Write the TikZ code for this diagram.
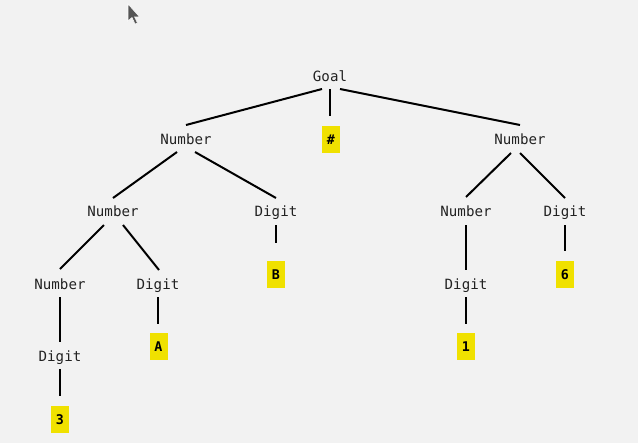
\documentclass[tikz,border=0pt]{standalone}
\usepackage{fontspec}
\setmonofont{DejaVu Sans Mono}
\definecolor{bg}{HTML}{F2F2F2}
\definecolor{leafy}{HTML}{F0E100}
\definecolor{txt}{HTML}{222222}
\definecolor{cur}{HTML}{555555}
\tikzset{
  lbl/.style={inner sep=0pt, text height=7.5pt, text depth=0pt, text=txt, font=\ttfamily\fontsize{10.6}{12}\selectfont},
  leaf/.style={fill=leafy, inner sep=0pt, minimum width=18*0.75pt, minimum height=27*0.75pt,
    text=black, font=\ttfamily\bfseries\fontsize{10}{11}\selectfont},
  edge/.style={line width=1.5pt, black}
}
\begin{document}
\begin{tikzpicture}[x=0.75pt,y=-0.75pt]
\fill[bg] (0,0) rectangle (638,443);
\useasboundingbox (0,0) rectangle (638,443);
% cursor
\fill[cur, draw=white, line width=0.4pt] (128,4) -- (128,21) -- (132,17.5) -- (135,24) -- (137.5,23) -- (134.5,16.8) -- (139.5,16.8) -- cycle;
% nodes
\node[lbl] (goal) at (330,76) {Goal};
\node[lbl] (n1) at (186,139) {Number};
\node[leaf] (hash) at (331,139.5) {\#};
\node[lbl] (n2) at (520,139) {Number};
\node[lbl] (n11) at (113,211) {Number};
\node[lbl] (d12) at (276,211) {Digit};
\node[lbl] (n21) at (466,211) {Number};
\node[lbl] (d22) at (565,211) {Digit};
\node[lbl] (n111) at (60,284) {Number};
\node[lbl] (d112) at (158,284) {Digit};
\node[leaf] (lB) at (276,274.5) {B};
\node[lbl] (d211) at (466,284) {Digit};
\node[leaf] (l6) at (565,274.5) {6};
\node[lbl] (d1111) at (60,356) {Digit};
\node[leaf] (lA) at (158.5,346.5) {A};
\node[leaf] (l1) at (466,346.5) {1};
\node[leaf] (l3) at (60,419.5) {3};
% edges
\draw[edge] ([shift={(-8,13)}]goal.center) -- ([shift={(0,-14)}]n1.center);
\draw[edge] ([shift={(0,13)}]goal.center) -- ([shift={(-1,-23.5)}]hash.center);
\draw[edge] ([shift={(10,13)}]goal.center) -- ([shift={(0,-14)}]n2.center);
\draw[edge] ([shift={(-9,13)}]n1.center) -- ([shift={(0,-13)}]n11.center);
\draw[edge] ([shift={(9,13)}]n1.center) -- ([shift={(0,-13)}]d12.center);
\draw[edge] ([shift={(-9,14)}]n2.center) -- ([shift={(0,-14)}]n21.center);
\draw[edge] ([shift={(0,14)}]n2.center) -- ([shift={(0,-13)}]d22.center);
\draw[edge] ([shift={(-9,14)}]n11.center) -- ([shift={(0,-15)}]n111.center);
\draw[edge] ([shift={(10,14)}]n11.center) -- ([shift={(1,-14)}]d112.center);
\draw[edge] ([shift={(0,14)}]d12.center) -- ([shift={(0,-31.5)}]lB.center);
\draw[edge] ([shift={(0,14)}]n21.center) -- ([shift={(0,-14)}]d211.center);
\draw[edge] ([shift={(0,14)}]d22.center) -- ([shift={(0,-23.5)}]l6.center);
\draw[edge] ([shift={(0,13)}]n111.center) -- ([shift={(0,-14)}]d1111.center);
\draw[edge] ([shift={(0,13)}]d112.center) -- ([shift={(-0.5,-22.5)}]lA.center);
\draw[edge] ([shift={(0,13)}]d211.center) -- ([shift={(0,-22.5)}]l1.center);
\draw[edge] ([shift={(0,13)}]d1111.center) -- ([shift={(0,-23.5)}]l3.center);
\end{tikzpicture}
\end{document}
